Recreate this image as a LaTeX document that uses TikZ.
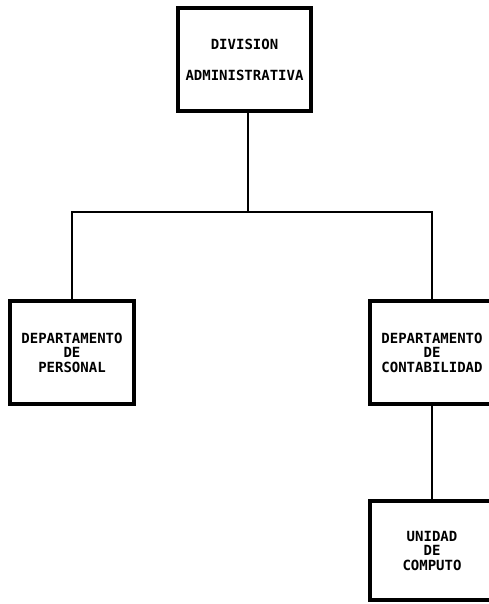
\documentclass[tikz,border=0pt]{standalone}
\usepackage{fontspec}
\newfontfamily\labelfont{DejaVu Sans Mono}
\usetikzlibrary{positioning}

\begin{document}
\begin{tikzpicture}[
    x=1pt,y=1pt,
    node distance=360pt,
    unit/.style={rectangle,draw,line width=4pt,minimum width=124pt,minimum height=103pt,inner sep=0pt,align=center,font=\labelfont\bfseries\fontsize{14}{14.5}\selectfont},
    link/.style={line width=2pt}
    ]
        \clip (0,0) rectangle (489,604);
        \node [unit,minimum width=133pt](DA) at (244.5,544.5) {DIVISION\\[16.5pt]ADMINISTRATIVA};
        \node [unit](DC) at (432,251.5) {DEPARTAMENTO\\DE\\CONTABILIDAD};
        \node [unit](DP) [left of=DC] {DEPARTAMENTO\\DE\\PERSONAL};
        \node [unit,minimum height=99pt](UC) [below of=DC,node distance=198pt] {UNIDAD\\DE\\COMPUTO};
        \coordinate (J) at (248,392);
        % \draw [link] (DA) -- (J);
        \draw [link] (J |- DA.south) -- (J);
        \draw [link] (DP.north) |- (J) -| (DC.north);
        \draw [link] (DC) -- (UC);

\end{tikzpicture}
\end{document}
